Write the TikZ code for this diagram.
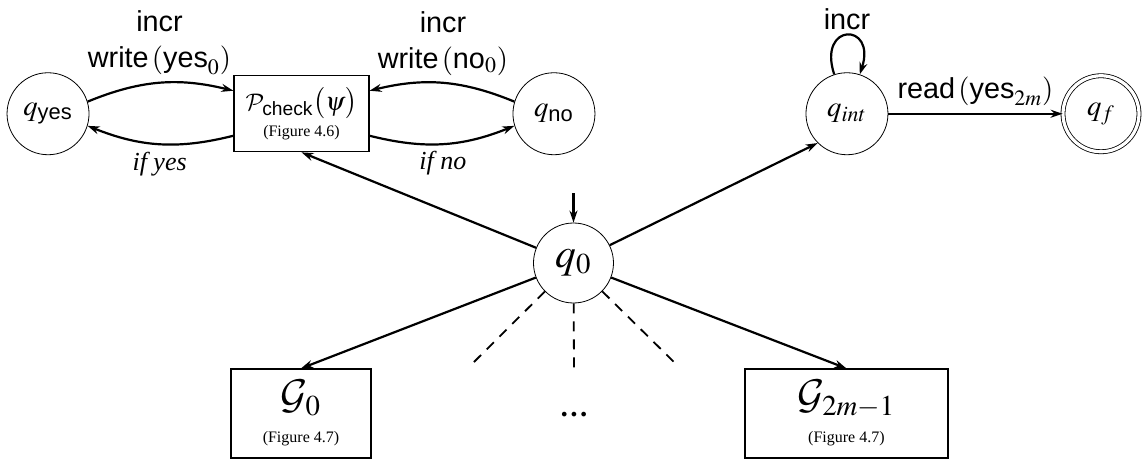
\documentclass[tikz,border=0pt]{standalone}
\usepackage{amsmath}
\usepackage{mathptmx}
\DeclareMathAlphabet{\mathcal}{OMS}{cmsy}{m}{n}
\usepackage{fontspec}
\setmainfont{Liberation Serif}
\setsansfont{Liberation Sans}
\usetikzlibrary{arrows.meta}

\tikzset{
  state/.style={circle, draw, thin, minimum size=41pt, inner sep=0pt, font=\Large},
  final/.style={state, double, double distance=1.6pt, minimum size=38pt},
  subbox/.style={rectangle, draw, line width=0.6pt, inner sep=0pt, align=center},
  trans/.style={-{Stealth[length=6pt, width=4pt]}, line width=1.1pt},
  lbl/.style={font=\Large\sffamily, align=center},
  iflbl/.style={font=\fontsize{13pt}{15pt}\selectfont\itshape},
}

\begin{document}
\begin{tikzpicture}
\useasboundingbox (0,0) rectangle (20.139,8.119);
% top row
\node[state] (qyes) at (0.844,6.12) {$q_{\textsf{yes}}$};
\node[subbox, minimum width=67.5pt, minimum height=38pt] (check) at (5.298,6.12)
  {{\fontsize{13pt}{15pt}\selectfont $\mathcal{P}_{\textsf{check}}\big(\psi\big)$}\\[1pt]{\footnotesize (Figure 4.6)}};
\node[state] (qno) at (9.735,6.12) {$q_{\textsf{no}}$};
\node[state] (qint) at (14.884,6.12) {$q_{int}$};
\node[final] (qf) at (19.348,6.12) {$q_f$};
% centre
\node[state, font=\huge, minimum size=40pt] (q0) at (10.078,3.497) {$q_0$};
\coordinate (init) at (10.078,4.727);
% bottom row
\node[subbox, minimum width=70pt, minimum height=44.5pt] (g0) at (5.289,0.852)
  {{\huge $\mathcal{G}_0$}\\[5pt]{\footnotesize (Figure 4.7)}};
\node (dots) at (10.087,0.826) {\Large\bfseries \ldots};
\node[subbox, minimum width=101.5pt, minimum height=44.5pt] (glast) at (14.875,0.852)
  {{\huge $\mathcal{G}_{2m-1}$}\\[5pt]{\footnotesize (Figure 4.7)}};
\coordinate (d1) at (8.277,1.705);
\coordinate (d2) at (10.087,1.634);
\coordinate (d3) at (11.897,1.705);

\draw[trans] (qyes.17) to[bend left=18]
  node[lbl, above] {incr\\$\textsf{write}\,(\textsf{yes}_0)$} ([yshift=11.5pt]check.west);
\draw[trans] ([yshift=-11pt]check.west) to[bend left=18]
  node[iflbl, below] {if yes} (qyes.-17);
\draw[trans] (qno.163) to[bend right=18]
  node[lbl, above] {incr\\$\textsf{write}\,(\textsf{no}_0)$} ([yshift=11.5pt]check.east);
\draw[trans] ([yshift=-11pt]check.east) to[bend right=18]
  node[iflbl, below] {if no} (qno.197);

\draw[trans] (qint) to[out=108, in=72, looseness=5.5] node[lbl, above=-1pt] {incr} (qint);
\draw[trans] (qint) -- node[lbl, above] {$\textsf{read}\,(\textsf{yes}_{2m})$} (qf);

\draw[trans] (init) -- (q0);
\draw[trans] (q0) -- (check.south);
\draw[trans] (q0) -- (qint.south west);
\draw[trans] (q0) -- (g0.north);
\draw[trans] (q0) -- (glast.north);
\draw[line width=0.9pt, dash pattern=on 5pt off 4pt] (q0) -- (d1);
\draw[line width=0.9pt, dash pattern=on 5pt off 4pt] (q0) -- (d2);
\draw[line width=0.9pt, dash pattern=on 5pt off 4pt] (q0) -- (d3);
\end{tikzpicture}
\end{document}
